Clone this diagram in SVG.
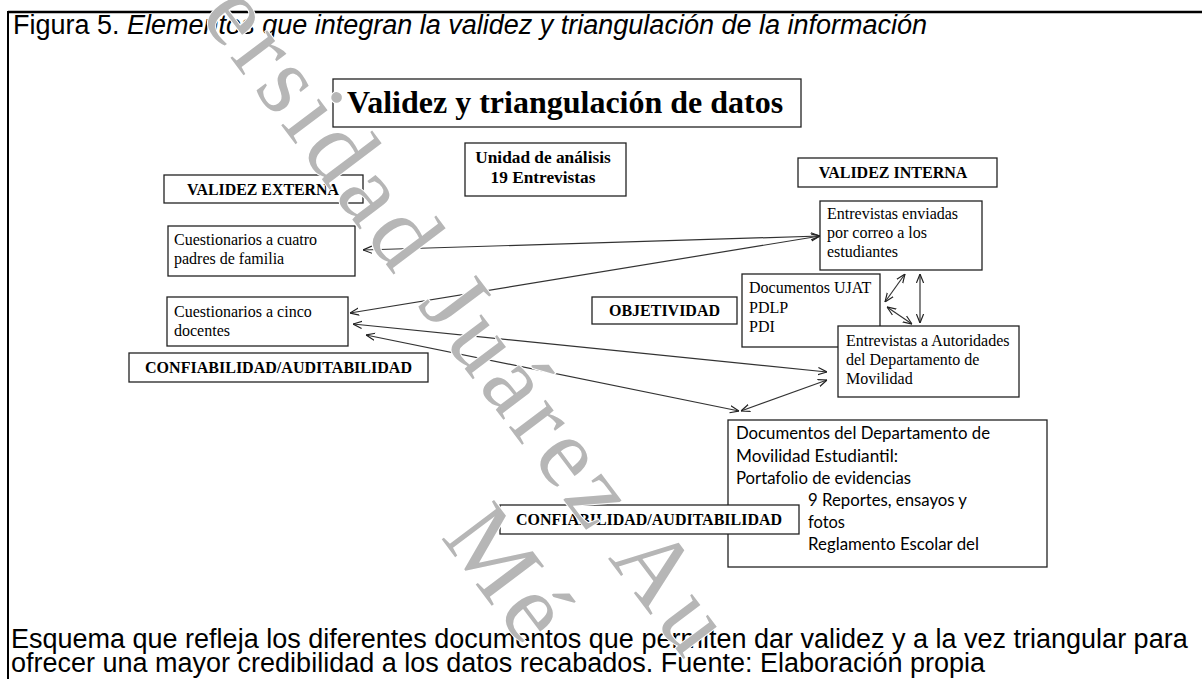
<svg xmlns="http://www.w3.org/2000/svg" width="1202" height="679" viewBox="0 0 1202 679">
<style>
.box{fill:#fff;stroke:#222;stroke-width:1.3}
.sans{font-family:"Liberation Sans",Arial,sans-serif;fill:#000;font-size:27px}
.ser{font-family:"Liberation Serif","Times New Roman",serif;fill:#000;font-size:16px}
.bold{font-weight:bold}
.cal{font-family:Lato,"Open Sans",sans-serif;fill:#000;font-size:17.3px}
.con{fill:none;stroke:#333;stroke-width:1.2;marker-start:url(#ah);marker-end:url(#ah)}
.wm{font-family:"Liberation Serif","Times New Roman",serif;font-size:100px;fill:#b6b6b6;stroke:#fff;stroke-width:2;paint-order:stroke}
</style>
<defs>
<marker id="ah" viewBox="0 0 10 10" refX="10" refY="5" markerWidth="9" markerHeight="9" markerUnits="userSpaceOnUse" orient="auto-start-reverse">
<path d="M0,1 L10,5 L0,9" fill="none" stroke="#222" stroke-width="1.3"/>
</marker>
</defs>
<rect width="1202" height="679" fill="#fff"/>
<g id="frame">
<line x1="8" y1="12" x2="1202" y2="12" stroke="#000" stroke-width="2.5"/>
<line x1="8" y1="11" x2="8" y2="679" stroke="#000" stroke-width="2"/>
</g>
<g id="caption-top">
<text class="sans" x="13" y="34">Figura 5. <tspan font-style="italic">Elementos que integran la validez y triangulación de la información</tspan></text>
</g>
<g id="title">
<rect class="box" x="333" y="79" width="468" height="48"/>
<text class="ser bold" x="347" y="113" style="font-size:32px">Validez y triangulación de datos</text>
</g>
<g id="unidad">
<rect class="box" x="465" y="143" width="161" height="53"/>
<text class="ser bold" x="543" y="163" text-anchor="middle" style="font-size:17.3px">Unidad de análisis</text>
<text class="ser bold" x="543" y="183" text-anchor="middle" style="font-size:17.3px">19 Entrevistas</text>
</g>
<g id="validez-externa">
<rect class="box" x="164" y="175" width="199" height="28"/>
<text class="ser bold" x="187" y="195" textLength="152" lengthAdjust="spacingAndGlyphs">VALIDEZ EXTERNA</text>
</g>
<g id="validez-interna">
<rect class="box" x="798" y="158" width="199" height="29"/>
<text class="ser bold" x="893" y="178" text-anchor="middle">VALIDEZ INTERNA</text>
</g>
<g id="cuatro">
<rect class="box" x="168" y="226" width="187" height="50"/>
<text class="ser" x="174" y="245">Cuestionarios a cuatro</text>
<text class="ser" x="174" y="264">padres de familia</text>
</g>
<g id="cinco">
<rect class="box" x="167" y="297" width="181" height="49"/>
<text class="ser" x="174" y="317">Cuestionarios a cinco</text>
<text class="ser" x="174" y="336">docentes</text>
</g>
<g id="confiabilidad-1">
<rect class="box" x="129" y="353" width="299" height="29"/>
<text class="ser bold" x="145" y="373" textLength="267" lengthAdjust="spacingAndGlyphs">CONFIABILIDAD/AUDITABILIDAD</text>
</g>
<g id="enviadas">
<rect class="box" x="820" y="201" width="162" height="69"/>
<text class="ser" x="827" y="219">Entrevistas enviadas</text>
<text class="ser" x="827" y="238">por correo a los</text>
<text class="ser" x="827" y="257">estudiantes</text>
</g>
<g id="objetividad">
<rect class="box" x="592" y="297" width="145" height="27"/>
<text class="ser bold" x="609" y="316" textLength="111" lengthAdjust="spacingAndGlyphs">OBJETIVIDAD</text>
</g>
<g id="ujat">
<rect class="box" x="742" y="274" width="138" height="73"/>
<text class="ser" x="749" y="293">Documentos UJAT</text>
<text class="ser" x="749" y="313">PDLP</text>
<text class="ser" x="749" y="332">PDI</text>
</g>
<g id="autoridades">
<rect class="box" x="838" y="326" width="181" height="71"/>
<text class="ser" x="846" y="346">Entrevistas a Autoridades</text>
<text class="ser" x="846" y="365">del Departamento de</text>
<text class="ser" x="846" y="384">Movilidad</text>
</g>
<g id="documentos-movilidad">
<rect class="box" x="728" y="420" width="319" height="147"/>
<text class="cal" x="736" y="439" textLength="254" lengthAdjust="spacingAndGlyphs">Documentos del Departamento de</text>
<text class="cal" x="736" y="462" textLength="162" lengthAdjust="spacingAndGlyphs">Movilidad Estudiantil:</text>
<text class="cal" x="736" y="484" textLength="175" lengthAdjust="spacingAndGlyphs">Portafolio de evidencias</text>
<text class="cal" x="808" y="506" textLength="159" lengthAdjust="spacingAndGlyphs">9 Reportes, ensayos y</text>
<text class="cal" x="808" y="528" textLength="37" lengthAdjust="spacingAndGlyphs">fotos</text>
<text class="cal" x="808" y="550" textLength="171" lengthAdjust="spacingAndGlyphs">Reglamento Escolar del</text>
</g>
<g id="confiabilidad-2">
<rect class="box" x="500" y="505" width="299" height="29"/>
<text class="ser bold" x="516" y="525" textLength="266" lengthAdjust="spacingAndGlyphs">CONFIABILIDAD/AUDITABILIDAD</text>
</g>
<g id="connectors">
<line class="con" x1="363" y1="250" x2="820" y2="236"/>
<line class="con" x1="350" y1="313" x2="820" y2="236"/>
<line class="con" x1="353" y1="324" x2="827" y2="372"/>
<line class="con" x1="366" y1="335" x2="739" y2="411"/>
<line class="con" x1="827" y1="380" x2="741" y2="411"/>
<line class="con" x1="905" y1="274" x2="885" y2="302"/>
<line class="con" x1="887" y1="307" x2="912" y2="324"/>
<line class="con" x1="920" y1="274" x2="920" y2="323"/>
</g>
<g id="caption-bottom">
<text class="sans" x="11" y="648">Esquema que refleja los diferentes documentos que permiten dar validez y a la vez triangular para</text>
<text class="sans" x="11" y="672">ofrecer una mayor credibilidad a los datos recabados. Fuente: Elaboración propia</text>
</g>
<g id="watermark">
<text class="wm" transform="translate(199,16) rotate(53)" letter-spacing="6">ersidad Juárez Au</text>
<text class="wm" transform="translate(440,537) rotate(53)" letter-spacing="6">Mé</text>
</g>
</svg>
